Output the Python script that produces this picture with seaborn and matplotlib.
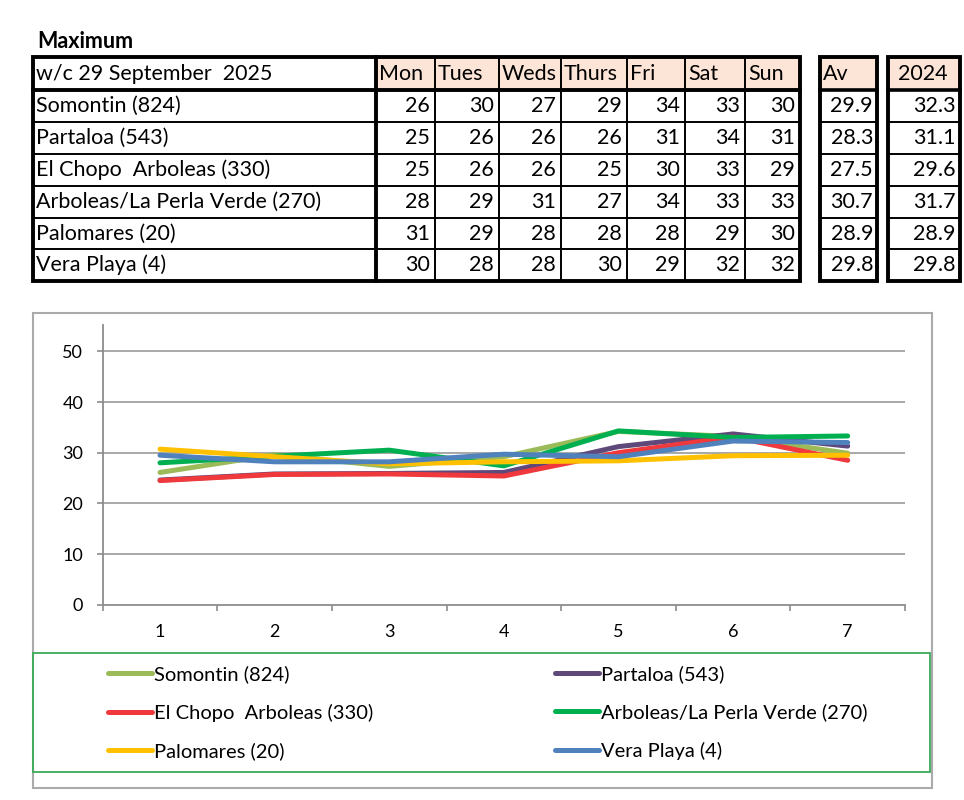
import matplotlib.pyplot as plt
import matplotlib.patches as mpatches
from matplotlib.lines import Line2D
import pandas as pd
import seaborn as sns

# ==============================================================================
# DATA
# ==============================================================================

TITLE = "Maximum"
WEEK_LABEL = "w/c 29 September  2025"
DAYS = ["Mon", "Tues", "Weds", "Thurs", "Fri", "Sat", "Sun"]
STATIONS = [
    "Somontin (824)",
    "Partaloa (543)",
    "El Chopo  Arboleas (330)",
    "Arboleas/La Perla Verde (270)",
    "Palomares (20)",
    "Vera Playa (4)",
]

# table values
somontin_tbl = [26, 30, 27, 29, 34, 33, 30]
partaloa_tbl = [25, 26, 26, 26, 31, 34, 31]
elchopo_tbl = [25, 26, 26, 25, 30, 33, 29]
perla_tbl = [28, 29, 31, 27, 34, 33, 33]
palomares_tbl = [31, 29, 28, 28, 28, 29, 30]
vera_tbl = [30, 28, 28, 30, 29, 32, 32]
AV = ["29.9", "28.3", "27.5", "30.7", "28.9", "29.8"]
Y2024 = ["32.3", "31.1", "29.6", "31.7", "28.9", "29.8"]

# chart values (as drawn in the line chart)
DAY_NUM = [1, 2, 3, 4, 5, 6, 7]
somontin_line = [26.1, 29.6, 27.3, 29.2, 34.2, 33.2, 29.9]
partaloa_line = [24.6, 25.8, 25.9, 26.1, 31.2, 33.7, 31.3]
elchopo_line = [24.5, 25.7, 25.8, 25.4, 30.0, 33.1, 28.5]
perla_line = [28.0, 29.3, 30.5, 27.4, 34.3, 33.0, 33.3]
palomares_line = [30.7, 29.2, 27.8, 28.2, 28.4, 29.4, 29.5]
vera_line = [29.5, 28.2, 28.2, 29.7, 29.2, 32.3, 32.0]

COLORS = ["#9BBB59", "#5F497A", "#F0393C", "#00B050", "#FFC000", "#4F81BD"]

# ==============================================================================
# LAYOUT (pixels)
# ==============================================================================

W, H = 964, 800
COL_EDGES = [33, 376, 435, 499, 561, 627, 685, 745, 800]
AV_EDGES = [820, 877]
Y24_EDGES = [888, 960]
ROW_EDGES = [57, 90, 122, 154, 186, 218, 249, 281]
HEAD_FILL = "#FCE4D6"
TFONT = ["Lato", "DejaVu Sans"]
TSIZE = 15.5

fig = plt.figure(figsize=(W / 100, H / 100), dpi=100)
bg = fig.add_axes([0, 0, 1, 1], zorder=0)
bg.set_xlim(0, W)
bg.set_ylim(H, 0)
bg.axis("off")

bg.text(37, 42, TITLE, fontsize=15.5, fontweight="bold", family=TFONT, va="center", ha="left")


def _box(ax, x0, x1):
    top, bottom = ROW_EDGES[0], ROW_EDGES[-1]
    ax.add_patch(mpatches.Rectangle((x0, top), x1 - x0, ROW_EDGES[1] - top,
                                    facecolor=HEAD_FILL, edgecolor="none"))
    for y in ROW_EDGES[2:-1]:
        ax.plot([x0, x1], [y, y], color="black", lw=1.4)
    ax.plot([x0, x1], [ROW_EDGES[1], ROW_EDGES[1]], color="black", lw=2.6)
    ax.add_patch(mpatches.Rectangle((x0, top), x1 - x0, bottom - top,
                                    facecolor="none", edgecolor="black", lw=2.8))


# main table
x0, x1 = COL_EDGES[0], COL_EDGES[-1]
bg.add_patch(mpatches.Rectangle((COL_EDGES[1], ROW_EDGES[0]), x1 - COL_EDGES[1],
                                ROW_EDGES[1] - ROW_EDGES[0], facecolor=HEAD_FILL, edgecolor="none"))
for y in ROW_EDGES[2:-1]:
    bg.plot([x0, x1], [y, y], color="black", lw=1.4)
bg.plot([x0, x1], [ROW_EDGES[1], ROW_EDGES[1]], color="black", lw=2.8)
for x in COL_EDGES[2:-1]:
    bg.plot([x, x], [ROW_EDGES[0], ROW_EDGES[-1]], color="black", lw=1.4)
bg.plot([COL_EDGES[1], COL_EDGES[1]], [ROW_EDGES[0], ROW_EDGES[-1]], color="black", lw=2.8)
bg.add_patch(mpatches.Rectangle((x0, ROW_EDGES[0]), x1 - x0, ROW_EDGES[-1] - ROW_EDGES[0],
                                facecolor="none", edgecolor="black", lw=2.8))
_box(bg, *AV_EDGES)
_box(bg, *Y24_EDGES)

row_mid = [(a + b) / 2 for a, b in zip(ROW_EDGES[:-1], ROW_EDGES[1:])]
tbl = [somontin_tbl, partaloa_tbl, elchopo_tbl, perla_tbl, palomares_tbl, vera_tbl]

bg.text(COL_EDGES[0] + 3, row_mid[0], WEEK_LABEL, fontsize=TSIZE, family=TFONT, va="center")
for j, d in enumerate(DAYS):
    bg.text(COL_EDGES[j + 1] + 3, row_mid[0], d, fontsize=TSIZE, family=TFONT, va="center")
bg.text(AV_EDGES[0] + 3, row_mid[0], "Av", fontsize=TSIZE, family=TFONT, va="center")
bg.text(Y24_EDGES[0] + 10, row_mid[0], "2024", fontsize=TSIZE, family=TFONT, va="center")

for i, name in enumerate(STATIONS):
    y = row_mid[i + 1]
    bg.text(COL_EDGES[0] + 3, y, name, fontsize=TSIZE, family=TFONT, va="center")
    for j, v in enumerate(tbl[i]):
        bg.text(COL_EDGES[j + 2] - 5, y, str(v), fontsize=TSIZE, family=TFONT, va="center", ha="right")
    bg.text(AV_EDGES[1] - 4, y, AV[i], fontsize=TSIZE, family=TFONT, va="center", ha="right")
    bg.text(Y24_EDGES[1] - 4, y, Y2024[i], fontsize=TSIZE, family=TFONT, va="center", ha="right")

# chart frame and legend box
bg.add_patch(mpatches.Rectangle((33, 313), 899, 475, facecolor="none", edgecolor="#AAAAAA", lw=1.5))
bg.add_patch(mpatches.Rectangle((33, 653), 897, 119, facecolor="none", edgecolor="#3DAA5A", lw=1.3))

# ==============================================================================
# LINE CHART
# ==============================================================================

lines = [somontin_line, partaloa_line, elchopo_line, perla_line, palomares_line, vera_line]
df = pd.DataFrame(
    [(DAY_NUM[k], name, vals[k]) for name, vals in zip(STATIONS, lines) for k in range(len(DAY_NUM))],
    columns=["day", "station", "temp"],
)

ax = fig.add_axes([102.7 / W, 195.3 / H, 802.3 / W, 279.7 / H], zorder=1)
ax.set_facecolor("none")
sns.lineplot(
    data=df, x="day", y="temp", hue="station", hue_order=STATIONS,
    palette=dict(zip(STATIONS, COLORS)), linewidth=3.6, legend=False, ax=ax,
    solid_capstyle="round",
)
ax.set_xlim(0.5, 7.5)
ax.set_ylim(0, 55.2)
ax.set_yticks([0, 10, 20, 30, 40, 50])
ax.set_xticks(DAY_NUM)
ax.set_xticks([k + 0.5 for k in range(0, 8)], minor=True)
ax.set_xlabel("")
ax.set_ylabel("")
for yv in [10, 20, 30, 40, 50]:
    ax.axhline(yv, color="#9A9A9A", lw=1.2, zorder=0)
for s in ["top", "right"]:
    ax.spines[s].set_visible(False)
for s in ["left", "bottom"]:
    ax.spines[s].set_color("#8C8C8C")
    ax.spines[s].set_linewidth(1.3)
ax.tick_params(axis="x", which="major", length=0, pad=14, labelsize=13)
ax.tick_params(axis="x", which="minor", length=4, color="#8C8C8C", width=1.2)
ax.tick_params(axis="y", length=4, color="#8C8C8C", width=1.2, pad=10, labelsize=13)
for lab in ax.get_xticklabels() + ax.get_yticklabels():
    lab.set_family(TFONT)

# legend (column-major order for two columns)
order = [0, 2, 4, 1, 3, 5]
handles = [Line2D([0], [0], color=COLORS[i], lw=3.6, solid_capstyle="round") for i in order]
labels = [STATIONS[i] for i in order]
fig.legend(
    handles, labels, loc="upper left", bbox_to_anchor=(90 / W, 1 - 647 / H),
    ncol=2, frameon=False, handlelength=2.2, handletextpad=0.1, columnspacing=9.0,
    labelspacing=1.02, prop={"family": TFONT, "size": 14.5},
)

fig.savefig("out.png", dpi=100)
